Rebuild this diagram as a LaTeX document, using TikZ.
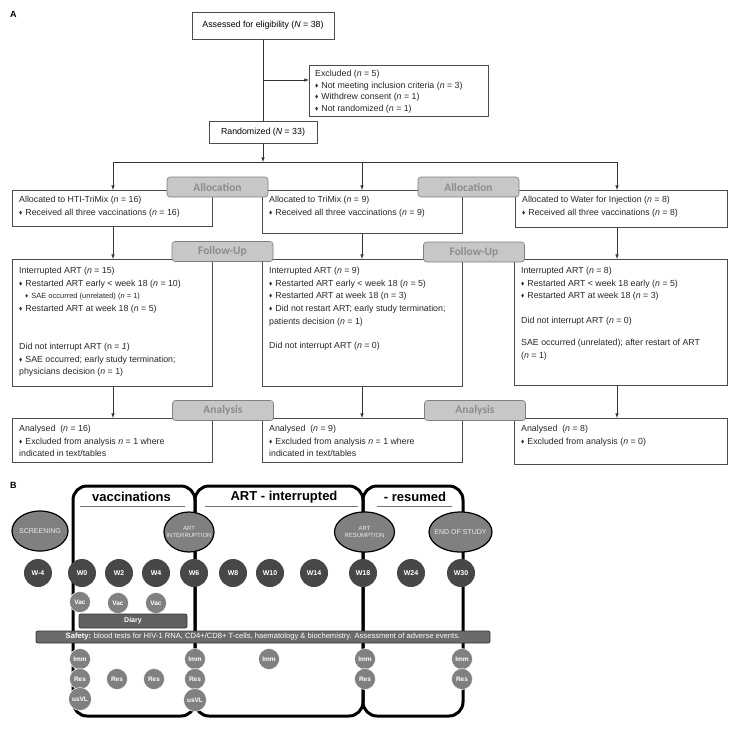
\documentclass[tikz,border=0pt]{standalone}
\usepackage{amssymb}
\usepackage{fontspec}
\setmainfont{Liberation Sans}
\newfontfamily\tagfont{Carlito}
\usepackage{tikz}
\usetikzlibrary{arrows,shapes.geometric}
\newcommand{\dmd}{\raisebox{1pt}{\scalebox{0.55}{$\blacklozenge$}}\hspace{3pt}}
\newcommand{\vn}{\textit{n}}

\begin{document}
\begin{tikzpicture}[x=1pt, y=-1pt, >=latex,
  box/.style={draw=black!70, line width=0.6pt, inner sep=0pt},
  link/.style={draw=black!80, line width=0.6pt},
  txt/.style={anchor=north west, align=left, inner sep=0pt, text=black!85, font=\fontsize{8.8}{12.7}\selectfont},
  tag/.style={draw=black!50, fill=black!22, line width=0.6pt, rounded corners=3pt, minimum width=101, minimum height=20, inner sep=0pt, text=black!45, font=\tagfont\bfseries\fontsize{11.5}{12}\selectfont},
  week/.style={circle, fill=black!72, minimum size=28, inner sep=0pt, text=white, font=\bfseries\fontsize{7}{8}\selectfont},
  visit/.style={circle, fill=black!50, draw=white, line width=0.5pt, minimum size=21, inner sep=0pt, text=white, font=\bfseries\fontsize{6.5}{7}\selectfont},
  event/.style={ellipse, fill=black!50, draw=black, line width=1.2pt, inner sep=0pt, minimum height=40},
  evtxt/.style={align=center, inner sep=0pt, text=white!92!black, font=\fontsize{7}{7.5}\selectfont},
  bar/.style={draw=black!80, line width=0.8pt, fill=black!58, rounded corners=2pt, inner sep=0pt, text=white},
  phase/.style={line width=3pt, rounded corners=14pt},
  title/.style={font=\bfseries\fontsize{13}{14}\selectfont}]
\useasboundingbox (0,0) rectangle (730,731);

\node[anchor=north west, inner sep=0pt, font=\bfseries\fontsize{9}{10}\selectfont] (la) at (10,11) {A};
\node[box, minimum width=142, minimum height=27, font=\fontsize{8.8}{10}\selectfont] (assess) at (263,25.5) {Assessed for eligibility (\textit{N} = 38)};
\node[box, minimum width=179, minimum height=51, anchor=north west] (excl) at (309,65) {};
\node[txt, font=\fontsize{8.8}{11.5}\selectfont] (excltxt) at ([shift={(6,5)}]excl.north west)
  {Excluded (\vn{} = 5)\\ \dmd Not meeting inclusion criteria (\vn{} = 3)\\ \dmd Withdrew consent (\vn{} = 1)\\ \dmd Not randomized (\vn{} = 1)};
\node[box, minimum width=108, minimum height=22, font=\fontsize{8.8}{10}\selectfont] (rand) at (263,132) {Randomized (\textit{N} = 33)};
\coordinate (split) at (263,80);
\coordinate (fork) at (263,162);
\coordinate (b1) at (113,162);
\coordinate (b2) at (362,162);
\coordinate (b3) at (617,162);

\node[box, minimum width=200, minimum height=36, anchor=north west] (alloc1) at (12,190) {};
\node[box, minimum width=200, minimum height=43, anchor=north west] (alloc2) at (262,190) {};
\node[box, minimum width=212, minimum height=37, anchor=north west] (alloc3) at (515,190) {};
\node[txt] at ([shift={(7,6)}]alloc1.north west) {Allocated to HTI-TriMix (\vn{} = 16)\\ \dmd Received all three vaccinations (\vn{} = 16)};
\node[txt] at ([shift={(7,6)}]alloc2.north west) {Allocated to TriMix (\vn{} = 9)\\ \dmd Received all three vaccinations (\vn{} = 9)};
\node[txt] at ([shift={(7,6)}]alloc3.north west) {Allocated to Water for Injection (\vn{} = 8)\\ \dmd Received all three vaccinations (\vn{} = 8)};

\node[box, minimum width=200, minimum height=127, anchor=north west] (follow1) at (12,259) {};
\node[box, minimum width=200, minimum height=127, anchor=north west] (follow2) at (262,259) {};
\node[box, minimum width=213, minimum height=126, anchor=north west] (follow3) at (514,259) {};
\node[txt] at ([shift={(7,8)}]follow1.north west) {Interrupted ART (\vn{} = 15)\\
  \dmd Restarted ART early < week 18 (\vn{} = 10)\\
  \hspace*{6pt}{\fontsize{7.5}{9}\selectfont\dmd SAE occurred (unrelated) (\vn{} = 1)}\\
  \dmd Restarted ART at week 18 (\vn{} = 5)\\[25pt]
  Did not interrupt ART (n = \textit{1})\\
  \dmd SAE occurred; early study termination;\\
  physicians decision (\vn{} = 1)};
\node[txt] at ([shift={(7,8)}]follow2.north west) {Interrupted ART (\vn{} = 9)\\
  \dmd Restarted ART early < week 18 (\vn{} = 5)\\
  \dmd Restarted ART at week 18 (n = 3)\\
  \dmd Did not restart ART; early study termination;\\
  patients decision (\vn{} = 1)\\[11pt]
  Did not interrupt ART (\vn{} = 0)};
\node[txt] at ([shift={(7,8)}]follow3.north west) {Interrupted ART (\vn{} = 8)\\
  \dmd Restarted ART < week 18 early (\vn{} = 5)\\
  \dmd Restarted ART at week 18 (\vn{} = 3)\\[12pt]
  Did not interrupt ART (\vn{} = 0)\\[9pt]
  SAE occurred (unrelated); after restart of ART\\
  (\vn{} = 1)};

\node[box, minimum width=200, minimum height=44, anchor=north west] (anal1) at (12,418) {};
\node[box, minimum width=200, minimum height=44, anchor=north west] (anal2) at (262,418) {};
\node[box, minimum width=213, minimum height=46, anchor=north west] (anal3) at (514,418) {};
\node[txt] at ([shift={(7,7)}]anal1.north west) {Analysed\ \ (\vn{} = 16)\\ \dmd Excluded from analysis \vn{} = 1 where\\ indicated in text/tables};
\node[txt] at ([shift={(7,7)}]anal2.north west) {Analysed\ \ (\vn{} = 9)\\ \dmd Excluded from analysis \vn{} = 1 where\\ indicated in text/tables};
\node[txt] at ([shift={(7,7)}]anal3.north west) {Analysed\ \ (\vn{} = 8)\\ \dmd Excluded from analysis (\vn{} = 0)};

\draw[link] (assess) -- (rand);
\draw[link] (b1) -- (b3);
\draw[link, ->] (split) -- (excl.west |- split);
\draw[link, ->] (rand) -- (fork);
\draw[link, ->] (b1) -- (alloc1.north -| b1);
\draw[link, ->] (b2) -- (alloc2.north -| b2);
\draw[link, ->] (b3) -- (alloc3.north -| b3);
\draw[link, ->] (alloc1.south -| b1) -- (follow1.north -| b1);
\draw[link, ->] (alloc2.south -| b2) -- (follow2.north -| b2);
\draw[link, ->] (alloc3.south -| b3) -- (follow3.north -| b3);
\draw[link, ->] (follow1.south -| b1) -- (anal1.north -| b1);
\draw[link, ->] (follow2.south -| b2) -- (anal2.north -| b2);
\draw[link, ->] (follow3.south -| b3) -- (anal3.north -| b3);

\node[tag] (alloctag1) at (217.5,187) {Allocation};
\node[tag] (alloctag2) at (468.5,187) {Allocation};
\node[tag] (followtag1) at (222.5,251.5) {Follow-Up};
\node[tag] (followtag2) at (474,252) {Follow-Up};
\node[tag] (analtag1) at (223,410.5) {Analysis};
\node[tag] (analtag2) at (475,410.5) {Analysis};

\node[anchor=north west, inner sep=0pt, font=\bfseries\fontsize{9}{10}\selectfont] (lb) at (10,482) {B};
\draw[phase] (73,486) rectangle (195,716);
\draw[phase] (195,486) rectangle (363,716);
\draw[phase] (363,486) rectangle (463,716);
\node[title] (tvac) at (131.5,497) {vaccinations};
\node[title] (tint) at (284,497) {ART - interrupted};
\node[title] (tres) at (415,497) {- resumed};
\draw[black!55, line width=0.8pt] (80,506) -- (185,506);
\draw[black!55, line width=0.8pt] (205,506) -- (358,506);
\draw[black!55, line width=0.8pt] (377,506) -- (452,506);

\node[event, minimum width=56, label={[evtxt]center:SCREENING}] (screen) at (40,531) {};
\node[event, minimum width=50, label={[evtxt, font=\fontsize{6}{7}\selectfont]center:{ART\\INTERRUPTION}}] (interr) at (189,532) {};
\node[event, minimum width=60, label={[evtxt, font=\fontsize{6}{7}\selectfont]center:{ART\\RESUMPTION}}] (resume) at (364.5,532) {};
\node[event, minimum width=63, label={[evtxt]center:END OF STUDY}] (eos) at (460.5,532) {};

\foreach \x/\w/\nm in {38/W-4/wm4, 82/W0/w0, 119/W2/w2, 156/W4/w4, 194/W6/w6, 233/W8/w8, 270/W10/w10, 314/W14/w14, 363/W18/w18, 411/W24/w24, 461/W30/w30}
  \node[week] (\nm) at (\x,573) {\w};

\node[visit] (vac0) at (80,602) {Vac};
\node[visit] (vac2) at (118,603) {Vac};
\node[visit] (vac4) at (156,603) {Vac};
\node[bar, fill=black!62, minimum width=108, minimum height=14, font=\bfseries\fontsize{7}{8}\selectfont] (diary) at (133,621) {Diary};
\node[bar, minimum width=454, minimum height=12, font=\fontsize{7.6}{8}\selectfont] (safety) at (263,637)
  {\textbf{Safety:} blood tests for HIV-1 RNA, CD4+/CD8+ T-cells, haematology \& biochemistry. Assessment of adverse events.};

\node[visit] (imm0) at (80,659) {Imm};
\node[visit] (res0) at (80,679) {Res};
\node[visit, minimum size=23] (vl0) at (80,699) {usVL};
\node[visit] (res2) at (117,679) {Res};
\node[visit] (res4) at (154,679) {Res};
\node[visit] (imm6) at (195,659) {Imm};
\node[visit] (res6) at (195,679) {Res};
\node[visit, minimum size=23] (vl6) at (195,700) {usVL};
\node[visit] (imm10) at (269,659) {Imm};
\node[visit] (imm18) at (365,659) {Imm};
\node[visit] (res18) at (365,679) {Res};
\node[visit] (imm30) at (462,659) {Imm};
\node[visit] (res30) at (462,679) {Res};
\end{tikzpicture}
\end{document}
